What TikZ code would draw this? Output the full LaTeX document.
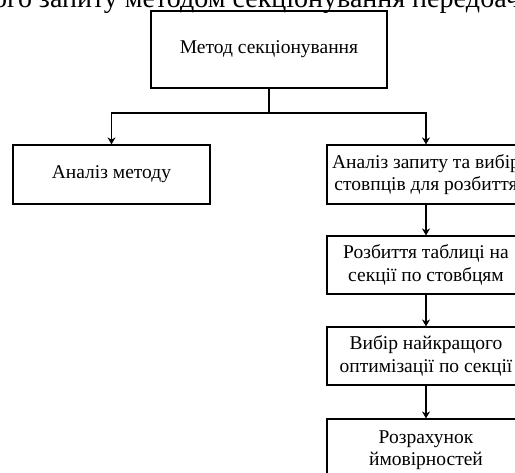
\documentclass[tikz,border=0pt]{standalone}
\usepackage{fontspec}
\setmainfont{Liberation Serif}
\usetikzlibrary{arrows.meta}
\begin{document}
\begin{tikzpicture}[x=1pt,y=-1pt,
  box/.style={draw, line width=1.2pt, inner sep=0pt, align=center, font=\fontsize{19.5}{22.5}\selectfont},
  arr/.style={line width=1.2pt, -{Stealth[length=7pt,width=8pt]}},
  ln/.style={line width=1.2pt}]
\useasboundingbox (0,0) rectangle (515,473);
\clip (0,0) rectangle (515,473);
\node[anchor=base west, inner sep=0pt, font=\fontsize{28}{32}\selectfont] (cap) at (-7,7.5) {ого запиту методом секціонування передбачає};
\node[box, minimum width=236pt, minimum height=77pt] (top) at (269,49.5) {Метод секціонування};
\node[box, minimum width=197pt, minimum height=59pt] (left) at (111.5,174.5) {Аналіз методу};
\node[box, minimum width=198pt, minimum height=59pt] (r1) at (426,174.5) {Аналіз запиту та вибір\\стовпців для розбиття};
\node[box, minimum width=198pt, minimum height=58pt] (r2) at (426,265) {Розбиття таблиці на\\секції по стовбцям};
\node[box, minimum width=198pt, minimum height=58pt] (r3) at (426,356) {Вибір найкращого\\оптимізації по секції};
\node[box, minimum width=198pt, minimum height=62pt] (r4) at (426,450) {Розрахунок\\ймовірностей};
\coordinate (j) at (269,113);
\draw[ln] (top.south) -- (j);
\draw[arr] (j) -| (left.north);
\draw[arr] (j) -| (r1.north);
\draw[arr] (r1) -- (r2);
\draw[arr] (r2) -- (r3);
\draw[arr] (r3) -- (r4);
\end{tikzpicture}
\end{document}
